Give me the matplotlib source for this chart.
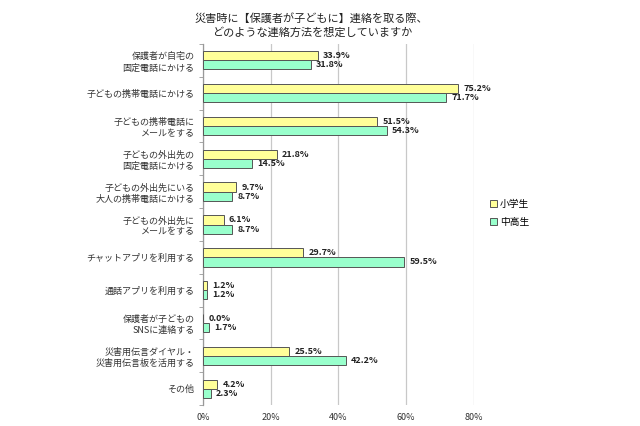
import matplotlib.pyplot as plt
import numpy as np
from matplotlib.patches import Patch

plt.rcParams['font.family'] = ['Noto Sans CJK JP', 'DejaVu Sans']

title = '災害時に【保護者が子どもに】連絡を取る際、\nどのような連絡方法を想定していますか'
categories = [
    '保護者が自宅の\n固定電話にかける',
    '子どもの携帯電話にかける',
    '子どもの携帯電話に\nメールをする',
    '子どもの外出先の\n固定電話にかける',
    '子どもの外出先にいる\n大人の携帯電話にかける',
    '子どもの外出先に\nメールをする',
    'チャットアプリを利用する',
    '通話アプリを利用する',
    '保護者が子どもの\nSNSに連絡する',
    '災害用伝言ダイヤル・\n災害用伝言板を活用する',
    'その他',
]
elementary = [33.9, 75.2, 51.5, 21.8, 9.7, 6.1, 29.7, 1.2, 0.0, 25.5, 4.2]
secondary = [31.8, 71.7, 54.3, 14.5, 8.7, 8.7, 59.5, 1.2, 1.7, 42.2, 2.3]
series_names = ['小学生', '中高生']
xticks = [0, 20, 40, 60, 80]

yellow = '#FFFF99'
green = '#99FFCC'
edge = '#555555'

fig = plt.figure(figsize=(6.4, 4.26), dpi=100)
ax = fig.add_axes([0.317, 0.049, 0.4234, 0.848])

y = np.arange(len(categories))
h = 0.28
ax.barh(y - h / 2, elementary, height=h, color=yellow, edgecolor=edge, linewidth=0.7, zorder=3)
ax.barh(y + h / 2, secondary, height=h, color=green, edgecolor=edge, linewidth=0.7, zorder=3)

for yi, v in zip(y, elementary):
    ax.text(v + 1.6, yi - h / 2, f'{v:.1f}%', va='center', ha='left',
            fontsize=6.5, fontweight='bold', color='#222222')
for yi, v in zip(y, secondary):
    ax.text(v + 1.6, yi + h / 2, f'{v:.1f}%', va='center', ha='left',
            fontsize=6.5, fontweight='bold', color='#222222')

ax.set_xlim(0, 80)
ax.set_ylim(len(categories) - 0.5, -0.5)
ax.set_xticks(xticks)
ax.set_xticklabels([f'{t}%' for t in xticks], fontsize=6.5, color='#333333')
ax.set_yticks(y)
ax.set_yticklabels(categories, fontsize=6.5, color='#333333', linespacing=1.3)
ax.set_yticks(np.arange(len(categories) + 1) - 0.5, minor=True)
ax.tick_params(axis='y', which='major', length=0, pad=6)
ax.tick_params(axis='y', which='minor', length=3, color='#999999')
ax.tick_params(axis='x', length=0, pad=6)

ax.grid(axis='x', color='#C8C8C8', linewidth=0.9, zorder=0)
for s in ['top', 'right', 'bottom']:
    ax.spines[s].set_visible(False)
ax.spines['left'].set_color('#999999')
ax.spines['left'].set_linewidth(0.9)

fig.text(0.487, 0.94, title, ha='center', va='center', fontsize=8, color='#222222', linespacing=1.4)

handles = [Patch(facecolor=yellow, edgecolor=edge, linewidth=0.7),
           Patch(facecolor=green, edgecolor=edge, linewidth=0.7)]
fig.legend(handles, series_names, loc='center left', bbox_to_anchor=(0.752, 0.5),
           frameon=False, fontsize=7, handlelength=0.7, handleheight=0.7,
           handletextpad=0.3, labelspacing=0.8)

fig.savefig('out.png', dpi=100)
